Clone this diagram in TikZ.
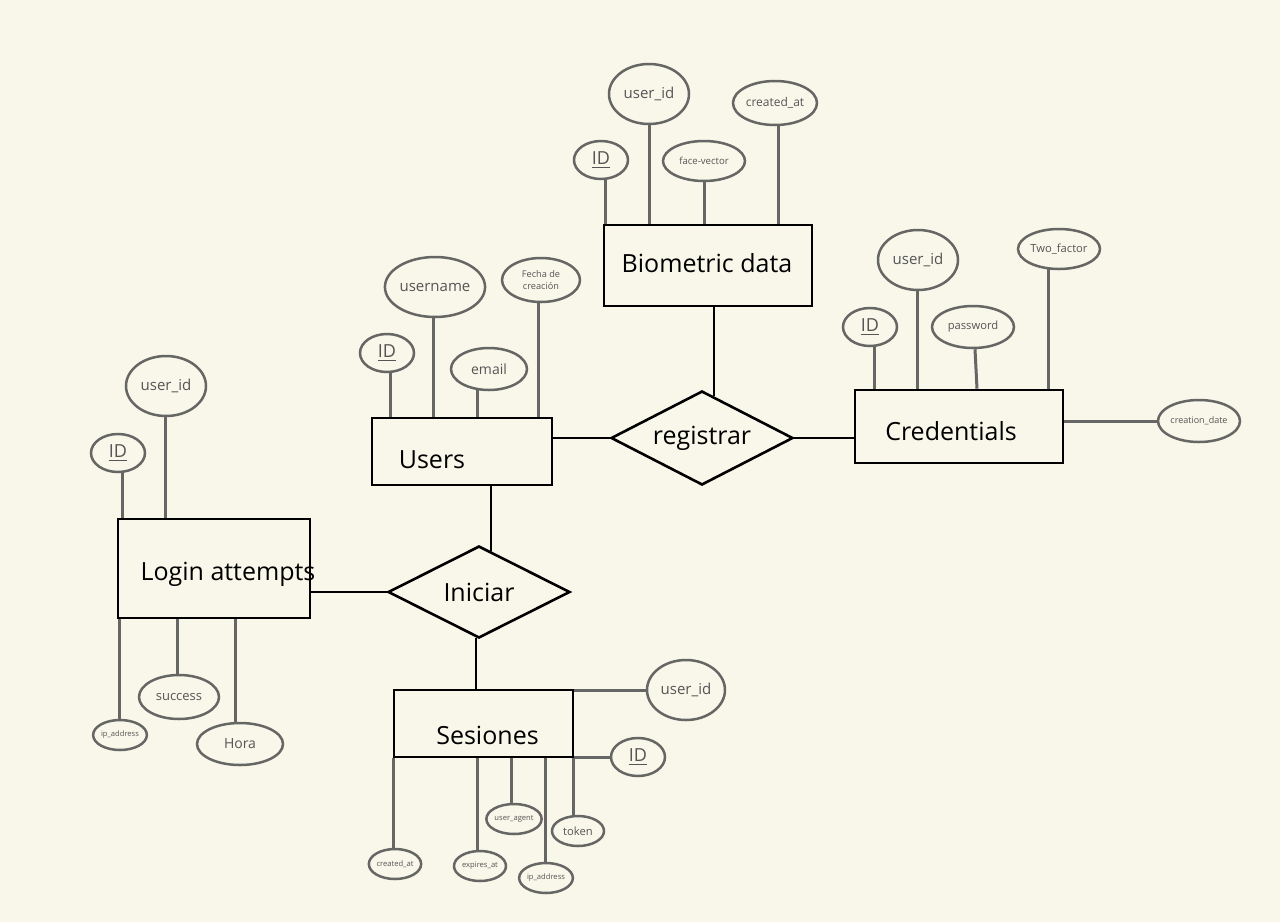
\documentclass[tikz,border=0pt]{standalone}
\usepackage{fontspec}
\setmainfont{Open Sans}
\usetikzlibrary{shapes.geometric,calc}
\definecolor{bgc}{RGB}{248,247,234}
\definecolor{attc}{RGB}{102,102,100}
\definecolor{attt}{RGB}{85,85,85}
\tikzset{
  attr/.style={ellipse,draw=attc,line width=1.25pt,inner sep=0pt,text=attt,font=\fontsize{7.5}{8}\selectfont,align=center},
  ebox/.style={rectangle,draw=black,line width=1.3pt,inner sep=0pt},
  etext/.style={font=\fontsize{12.5}{14}\selectfont,inner sep=0pt},
  rel/.style={diamond,draw=black,line width=1.3pt,inner sep=0pt,aspect=2,font=\fontsize{12.5}{14}\selectfont},
  aline/.style={draw=attc,line width=1.5pt},
  rline/.style={draw=black,line width=1.3pt},
}
\begin{document}
\begin{tikzpicture}[x=0.5pt,y=-0.5pt]
\useasboundingbox (0,0) rectangle (1280,922);
\fill[bgc] (0,0) rectangle (1280,922);

% Entities
\node[ebox,minimum width=104pt,minimum height=40.5pt,label={[etext,xshift=-0.5pt,yshift=1pt]center:Biometric data}] (bio) at (708,265.5) {};
\node[ebox,minimum width=90pt,minimum height=33.5pt,label={[etext,xshift=-15pt,yshift=-4pt]center:Users}] (users) at (462,451.5) {};
\node[ebox,minimum width=104pt,minimum height=36.5pt,label={[etext,xshift=-4pt,yshift=-2.5pt]center:Credentials}] (cred) at (959,426.5) {};
\node[ebox,minimum width=96pt,minimum height=49.5pt,label={[etext,xshift=7pt,yshift=-3pt]center:Login attempts}] (login) at (214,568.5) {};
\node[ebox,minimum width=89.5pt,minimum height=33.5pt,label={[etext,xshift=2pt,yshift=-6pt]center:Sesiones}] (ses) at (483.5,723.5) {};

% Relationships
\node[rel,minimum width=91pt,minimum height=47pt] (reg) at (702,438) {registrar};
\node[rel,minimum width=91pt,minimum height=46pt] (ini) at (479,592) {Iniciar};

% Biometric attributes
\node[attr,minimum width=27pt,minimum height=19pt,font=\fontsize{9}{10}\selectfont] (bid) at (601,160) {\underline{ID}};
\node[attr,minimum width=40pt,minimum height=30pt] (buid) at (649,94) {user\_id};
\node[attr,minimum width=41pt,minimum height=20pt,font=\fontsize{4.8}{5}\selectfont] (bfv) at (704,161) {face-vector};
\node[attr,minimum width=42pt,minimum height=22pt,font=\fontsize{6}{7}\selectfont] (bca) at (775,103) {created\_at};

% Users attributes
\node[attr,minimum width=27pt,minimum height=19pt,font=\fontsize{9}{10}\selectfont] (uid) at (387,353) {\underline{ID}};
\node[attr,minimum width=39pt,minimum height=30pt] (uun) at (435,287) {username};
\node[attr,minimum width=38pt,minimum height=21pt,font=\fontsize{7}{8}\selectfont] (uem) at (489,369) {email};
\node[attr,minimum width=39pt,minimum height=22pt,font=\fontsize{4.6}{5.6}\selectfont] (ufc) at (541,280) {Fecha de\\creación};

% Credentials attributes
\node[attr,minimum width=27pt,minimum height=19pt,font=\fontsize{9}{10}\selectfont] (cid) at (870,327) {\underline{ID}};
\node[attr,minimum width=40pt,minimum height=30pt] (cuid) at (918,260) {user\_id};
\node[attr,minimum width=41pt,minimum height=21pt,font=\fontsize{5.6}{6}\selectfont] (cpw) at (973,327) {password};
\node[attr,minimum width=41pt,minimum height=20pt,font=\fontsize{5.6}{6}\selectfont] (ctf) at (1059,249) {Two\_factor};
\node[attr,minimum width=41pt,minimum height=21pt,font=\fontsize{4.5}{5}\selectfont] (ccd) at (1199,421) {creation\_date};

% Login attempts attributes
\node[attr,minimum width=27pt,minimum height=19pt,font=\fontsize{9}{10}\selectfont] (lid) at (118,453) {\underline{ID}};
\node[attr,minimum width=40pt,minimum height=30pt] (luid) at (166,386) {user\_id};
\node[attr,minimum width=26pt,minimum height=15pt,font=\fontsize{3.8}{4}\selectfont] (lip) at (120,735) {ip\_address};
\node[attr,minimum width=40pt,minimum height=22pt,font=\fontsize{6.5}{7}\selectfont] (lsu) at (179,697) {success};
\node[attr,minimum width=43pt,minimum height=21pt,font=\fontsize{7}{8}\selectfont] (lho) at (240,744) {Hora};

% Sesiones attributes
\node[attr,minimum width=39pt,minimum height=30pt] (suid) at (686,690) {user\_id};
\node[attr,minimum width=27pt,minimum height=19pt,font=\fontsize{9}{10}\selectfont] (sid) at (638,757) {\underline{ID}};
\node[attr,minimum width=26pt,minimum height=15pt,font=\fontsize{3.8}{4}\selectfont] (sca) at (395,864) {created\_at};
\node[attr,minimum width=26pt,minimum height=15pt,font=\fontsize{3.8}{4}\selectfont] (sea) at (480,866) {expires\_at};
\node[attr,minimum width=26pt,minimum height=15pt,font=\fontsize{3.8}{4}\selectfont] (sua) at (514,819) {user\_agent};
\node[attr,minimum width=26pt,minimum height=15pt,font=\fontsize{3.8}{4}\selectfont] (sip) at (546,878) {ip\_address};
\node[attr,minimum width=26pt,minimum height=15pt,font=\fontsize{5.6}{6}\selectfont] (stk) at (578,831) {token};

% Connector start points (shifted from ellipse anchors)
\coordinate (pbid) at ($(bid.south)+(4,0)$);
\coordinate (pbca) at ($(bca.south)+(3,0)$);
\coordinate (puid) at ($(uid.south)+(3,0)$);
\coordinate (puun) at ($(uun.south)+(-2,0)$);
\coordinate (puem) at ($(uem.south)+(-12,-1)$);
\coordinate (pufc) at ($(ufc.south)+(-3,0)$);
\coordinate (pcid) at ($(cid.south)+(4,0)$);
\coordinate (pcuid) at ($(cuid.south)+(-1,0)$);
\coordinate (pcpw) at ($(cpw.south)+(2,0)$);
\coordinate (pcpwb) at ($(cpw.south)+(4,0)$);
\coordinate (pctf) at ($(ctf.south)+(-11,-1)$);
\coordinate (plid) at ($(lid.south)+(4,0)$);
\coordinate (pluid) at ($(luid.south)+(-1,0)$);
\coordinate (plip) at ($(lip.north)+(-1,0)$);
\coordinate (plsu) at ($(lsu.north)+(-2,0)$);
\coordinate (plho) at ($(lho.north)+(-5,0)$);
\coordinate (psca) at ($(sca.north)+(-2,0)$);
\coordinate (psea) at ($(sea.north)+(-3,0)$);
\coordinate (psua) at ($(sua.north)+(-3,0)$);
\coordinate (psip) at ($(sip.north)+(-1,0)$);
\coordinate (pstk) at ($(stk.north)+(-5,1)$);
\coordinate (preg) at ($(reg.north)+(12,6.2)$);
\coordinate (pini) at ($(ini.north)+(12,6.1)$);
\coordinate (pins) at ($(ini.south)+(-3,-1.5)$);

% Biometric
\draw[aline] (pbid) -- (pbid |- bio.north);
\draw[aline] (buid.south) -- (buid.south |- bio.north);
\draw[aline] (bfv.south) -- (bfv.south |- bio.north);
\draw[aline] (pbca) -- (pbca |- bio.north);
% Users
\draw[aline] (puid) -- (puid |- users.north);
\draw[aline] (puun) -- (puun |- users.north);
\draw[aline] (puem) -- (puem |- users.north);
\draw[aline] (pufc) -- (pufc |- users.north);
% Credentials
\draw[aline] (pcid) -- (pcid |- cred.north);
\draw[aline] (pcuid) -- (pcuid |- cred.north);
\draw[aline] (pcpw) -- (pcpwb |- cred.north);
\draw[aline] (pctf) -- (pctf |- cred.north);
\draw[aline] (ccd.west) -- (ccd.west -| cred.east);
% Login attempts
\draw[aline] (plid) -- (plid |- login.north);
\draw[aline] (pluid) -- (pluid |- login.north);
\draw[aline] (plip) -- (plip |- login.south);
\draw[aline] (plsu) -- (plsu |- login.south);
\draw[aline] (plho) -- (plho |- login.south);
% Sesiones
\draw[aline] (suid.west) -- (suid.west -| ses.east);
\draw[aline] (sid.west) -- (sid.west -| ses.east);
\draw[aline] (psca) -- (psca |- ses.south);
\draw[aline] (psea) -- (psea |- ses.south);
\draw[aline] (psua) -- (psua |- ses.south);
\draw[aline] (psip) -- (psip |- ses.south);
\draw[aline] (pstk) -- (pstk |- ses.south);

% Relationship lines
\draw[rline] (reg.west) -- (reg.west -| users.east);
\draw[rline] (reg.east) -- (reg.east -| cred.west);
\draw[rline] (preg |- bio.south) -- (preg);
\draw[rline] (pini |- users.south) -- (pini);
\draw[rline] (ini.west) -- (ini.west -| login.east);
\draw[rline] (pins) -- (pins |- ses.north);
\end{tikzpicture}
\end{document}
